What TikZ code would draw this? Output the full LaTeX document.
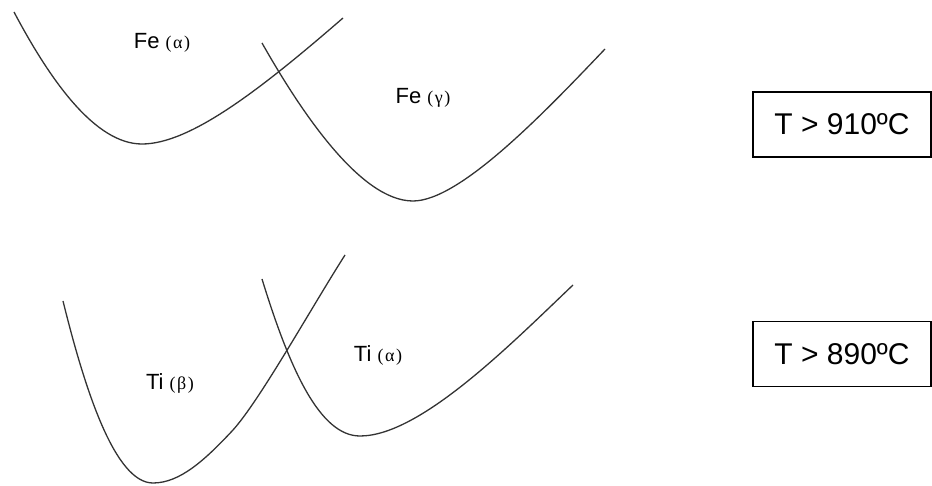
\documentclass[tikz,border=0pt]{standalone}
\usepackage{fontspec}
\setmainfont{Liberation Sans}
\newfontfamily\grkfont{Liberation Serif}
\newcommand{\grk}[1]{{\grkfont\fontsize{18}{21}\selectfont(\kern1.5pt#1\kern1.5pt)}}
\begin{document}
\begin{tikzpicture}[x=1pt,y=-1pt,
  curve/.style={draw=black!80, line width=1.3pt},
  phase/.style={inner sep=0pt, font=\fontsize{22}{26}\selectfont},
  tbox/.style={draw=black, line width=1.8pt, minimum width=178pt, minimum height=65pt, inner sep=0pt, font=\fontsize{30}{36}\selectfont}]
\useasboundingbox (0,0) rectangle (932,486);
% top panel
\draw[curve] (14,12) .. controls (50,80) and (95,144) .. (142,144)
  .. controls (190,144) and (260,90) .. (343,18);
\draw[curve] (262,43) .. controls (300,110) and (360,201) .. (413,201)
  .. controls (460,201) and (545,112) .. (605,49);
\node[phase] (fea) at (162,43) {Fe \grk{α}};
\node[phase] (feg) at (423,98) {Fe \grk{γ}};
% bottom panel
\draw[curve] (63,301) .. controls (85,390) and (115,483) .. (153,483)
  .. controls (180,483) and (205,460) .. (233,430)
  .. controls (260,400) and (310,310) .. (345,255);
\draw[curve] (262,279) .. controls (290,370) and (320,436) .. (360,436)
  .. controls (420,436) and (510,345) .. (573,285);
\node[phase] (tib) at (170,383) {Ti \grk{β}};
\node[phase] (tia) at (378,355) {Ti \grk{α}};
% boxes
\node[tbox] (b1) at (842,124.5) {T > 910ºC};
\node[tbox] (b2) at (842,354) {T > 890ºC};
\end{tikzpicture}
\end{document}
